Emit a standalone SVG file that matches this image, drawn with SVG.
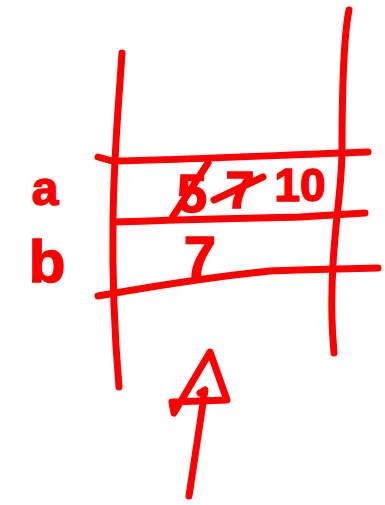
<svg xmlns="http://www.w3.org/2000/svg" width="385" height="505" viewBox="0 0 385 505">
<style>
.s{fill:none;stroke:#ff0000;stroke-width:7;stroke-linecap:round;stroke-linejoin:round}
.t{fill:#ff0000;stroke:#ff0000;stroke-width:1.5;font-family:"Liberation Sans",Arial,sans-serif;font-weight:bold;text-anchor:middle}
</style>
<rect width="385" height="505" fill="#ffffff"/>
<g id="table">
<path class="s" d="M122,53 C119,100 114,150 113,220 C112,290 115,340 119,387"/>
<path class="s" d="M349,10 C343,40 342,100 342,153 C341,200 333,230 332,290 C331,320 333,340 334,353"/>
<path class="s" d="M98,157 L112,161 C180,160 260,156 368,152"/>
<path class="s" d="M115,222 C200,219 260,218 300,217 L365,213"/>
<path class="s" d="M98,296 C160,285 220,276 270,271 L298,270 L378,268"/>
</g>
<g id="labels">
<text class="t" x="45" y="205" font-size="48">a</text>
<text class="t" x="47" y="282" font-size="60">b</text>
</g>
<g id="cell-a">
<text class="t" x="192" y="212" font-size="54">5</text>
<path class="s" d="M172,218 L208,163"/>
<text class="t" x="240" y="208" font-size="52">7</text>
<path class="s" d="M214,200 L263,177"/>
<text class="t" x="300" y="201" font-size="46">10</text>
</g>
<g id="cell-b">
<text class="t" x="200" y="277" font-size="58">7</text>
</g>
<g id="connectors">
<path class="s" d="M174,413 L172,402 L227,400 L210,352 Z"/>
<path class="s" d="M200,393 L205,390 L189,496"/>
</g>
</svg>
